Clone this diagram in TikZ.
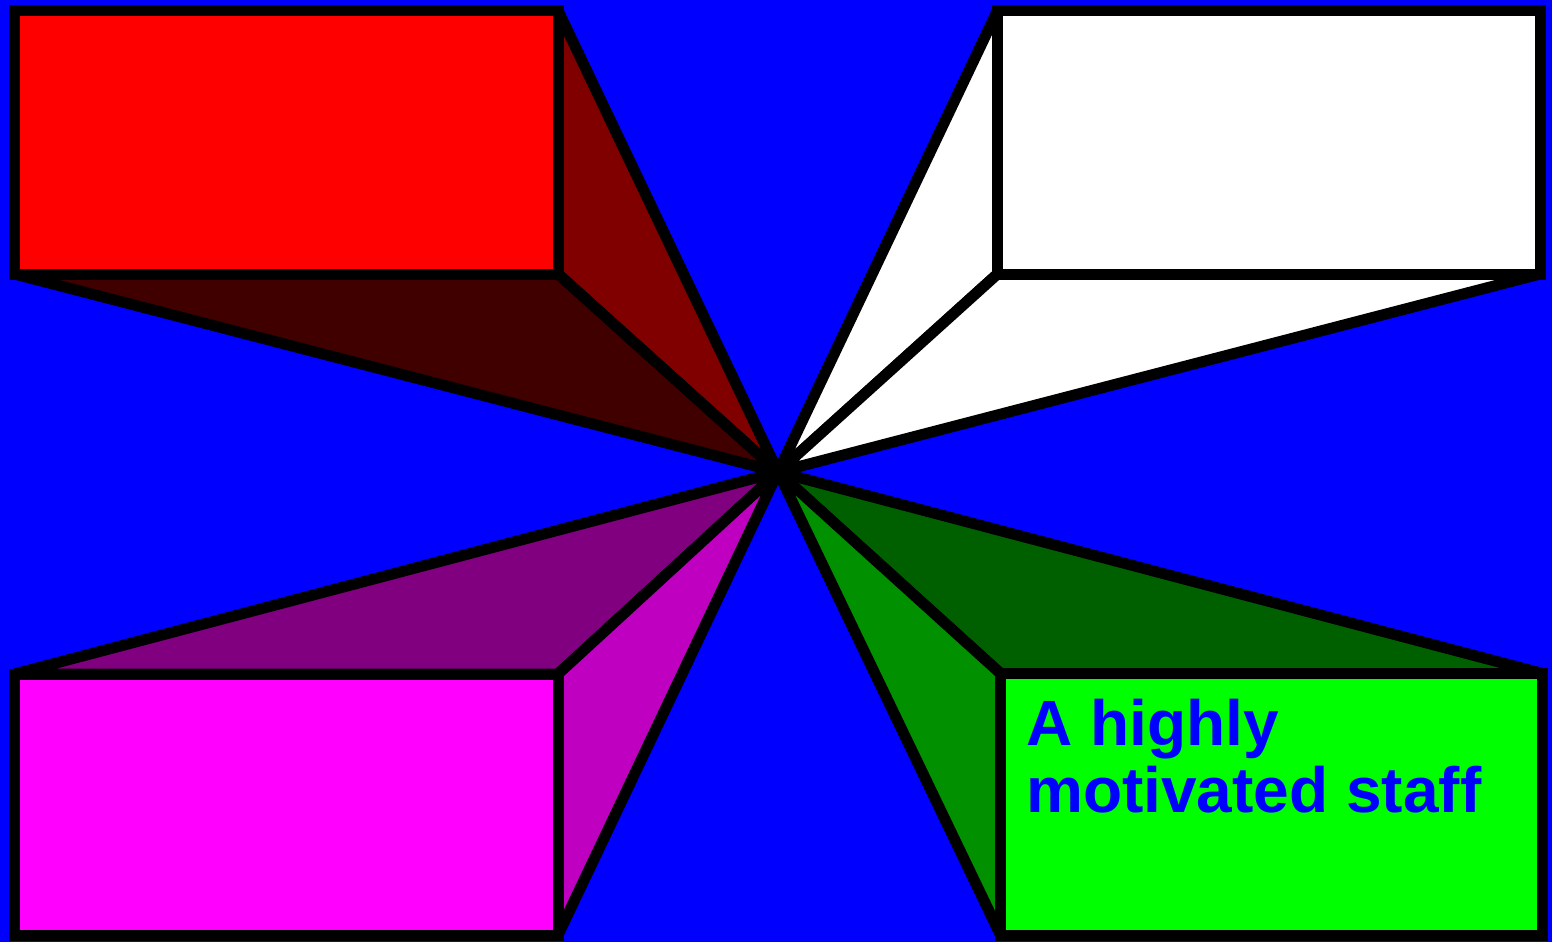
\documentclass[tikz,border=0pt]{standalone}
\usepackage{fontspec}
\setmainfont{Liberation Sans}
\definecolor{bg}{HTML}{0000FF}
\definecolor{redF}{HTML}{FF0000}
\definecolor{redR}{HTML}{800000}
\definecolor{redB}{HTML}{400000}
\definecolor{magF}{HTML}{FF00FF}
\definecolor{magT}{HTML}{800080}
\definecolor{magR}{HTML}{C000C0}
\definecolor{grnF}{HTML}{00FF00}
\definecolor{grnT}{HTML}{006000}
\definecolor{grnL}{HTML}{009000}
\tikzset{
  facet/.style={draw=black, line width=11pt, line join=round, line cap=round},
  front/.style={draw=black, line width=11pt, line join=miter},
}
\begin{document}
\begin{tikzpicture}[x=1pt,y=-1pt]
\fill[bg] (0,0) rectangle (1552,942);
\useasboundingbox (0,0) rectangle (1552,942);
\coordinate (C) at (778,472);
% red box
\coordinate (r1) at (14.5,10.5);
\coordinate (r2) at (558,10.5);
\coordinate (r3) at (558,274);
\coordinate (r4) at (14.5,274);
\filldraw[facet, fill=redR] (r2) -- (r3) -- (C) -- cycle;
\filldraw[facet, fill=redB] (r4) -- (r3) -- (C) -- cycle;
% white box
\coordinate (w1) at (997.5,10.5);
\coordinate (w2) at (1540,10.5);
\coordinate (w3) at (1540,274);
\coordinate (w4) at (997.5,274);
\filldraw[facet, fill=white] (w1) -- (w4) -- (C) -- cycle;
\filldraw[facet, fill=white] (w4) -- (w3) -- (C) -- cycle;
% magenta box
\coordinate (m1) at (14.5,674);
\coordinate (m2) at (558,674);
\coordinate (m3) at (558,935);
\coordinate (m4) at (14.5,935);
\filldraw[facet, fill=magT] (m1) -- (m2) -- (C) -- cycle;
\filldraw[facet, fill=magR] (m2) -- (m3) -- (C) -- cycle;
% green box
\coordinate (g1) at (1000.5,673.5);
\coordinate (g2) at (1542.5,673.5);
\coordinate (g3) at (1542.5,935);
\coordinate (g4) at (1000.5,935);
\filldraw[facet, fill=grnT] (g1) -- (g2) -- (C) -- cycle;
\filldraw[facet, fill=grnL] (g1) -- (g4) -- (C) -- cycle;
% fronts
\filldraw[front, fill=redF] (r1) rectangle (r3);
\filldraw[front, fill=white] (w1) rectangle (w3);
\filldraw[front, fill=magF] (m1) rectangle (m3);
\filldraw[front, fill=grnF] (g1) rectangle (g3);
\node[anchor=base west, align=left, inner sep=0pt, text=bg,
      font=\fontsize{64}{67}\selectfont\bfseries] (txt) at (1026,812)
  {A highly\\motivated staff};
\end{tikzpicture}
\end{document}
